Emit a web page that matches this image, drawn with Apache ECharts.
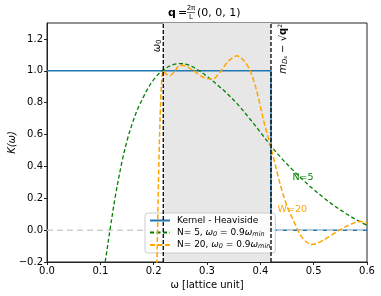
<!DOCTYPE html>
<html><head><meta charset="utf-8">
<script src="https://cdn.jsdelivr.net/npm/echarts@6/dist/echarts.min.js"></script>
<style>html,body{margin:0;padding:0;background:#fff}#c{width:381px;height:296px}</style>
</head><body><div id="c"></div>
<script>
// ---- data ----
const omega0 = 0.218;
const cutoff = 0.42;
const xTicks = [0.0, 0.1, 0.2, 0.3, 0.4, 0.5, 0.6];
const yTicks = [-0.2, 0.0, 0.2, 0.4, 0.6, 0.8, 1.0, 1.2];
const heavisideW = [0.0, 0.42, 0.42, 0.6];
const heavisideK = [1.0, 1.0, 0.0, 0.0];
const n5W = [0.100,0.109,0.118,0.128,0.140,0.150,0.160,0.170,0.180,0.190,0.200,0.210,0.218,0.230,0.240,0.250,0.265,0.283,0.300,0.320,0.340,0.360,0.380,0.400,0.420,0.440,0.460,0.480,0.500,0.520,0.540,0.560,0.580,0.600];
const n5K = [-0.36,-0.20,0.00,0.21,0.42,0.56,0.67,0.76,0.83,0.895,0.945,0.983,1.005,1.03,1.042,1.045,1.037,1.005,0.965,0.91,0.85,0.78,0.70,0.615,0.528,0.45,0.38,0.315,0.255,0.20,0.15,0.105,0.065,0.03];
const n20W = [0.203,0.206,0.209,0.212,0.215,0.218,0.224,0.231,0.240,0.249,0.260,0.275,0.290,0.300,0.312,0.324,0.340,0.356,0.370,0.381,0.393,0.406,0.418,0.428,0.437,0.450,0.462,0.475,0.485,0.495,0.505,0.520,0.543,0.565,0.587,0.600];
const n20K = [-0.45,-0.20,0.30,0.70,0.94,1.00,0.978,0.97,1.00,1.035,1.03,1.00,0.965,0.952,0.95,0.99,1.06,1.095,1.06,1.00,0.877,0.69,0.54,0.41,0.29,0.15,0.06,-0.03,-0.07,-0.09,-0.085,-0.06,-0.01,0.03,0.055,0.045];
const zeroLineW = [0.0, 0.6];
const zeroLineK = [0.0, 0.0];

const zip = (a,b) => a.map((v,i)=>[v,b[i]]);
const fmt = v => { const s = (Math.round(v*10)/10).toFixed(1); return s.replace('-', '\u2212'); };

const chart = echarts.init(document.getElementById('c'), null, {renderer:'canvas'});
const FONT = 'DejaVu Sans';
const option = {
  animation: false,
  textStyle: {fontFamily: FONT},
  grid: {left: 47, top: 23, right: 14, bottom: 34, show: true, borderColor: '#222', borderWidth: 1,
         backgroundColor: 'transparent', containLabel: false, outerBoundsMode: 'none'},
  legend: {
    left: 145, top: 213, orient: 'vertical', itemGap: 3, itemWidth: 20, itemHeight: 8,
    padding: [3,5,3,4], backgroundColor: 'rgba(255,255,255,0.85)', borderColor: '#ccc', borderWidth: 1, borderRadius: 3,
    itemStyle: {color: 'rgba(0,0,0,0)', borderColor: 'rgba(0,0,0,0)', borderWidth: 0},
    data: ['Kernel - Heaviside', 'N5', 'N20'],
    formatter: function(n){
      if (n === 'N5') return 'N= 5, {i|ω}{sub|0} = 0.9{i|ω}{sub|min}';
      if (n === 'N20') return 'N= 20, {i|ω}{sub|0} = 0.9{i|ω}{sub|min}';
      return n;
    },
    textStyle: {fontFamily: FONT, fontSize: 9, color: '#000', padding: [0,0,0,2],
      rich: {i:{fontFamily:FONT,fontSize:9,fontStyle:'italic',color:'#000'}, sub:{fontFamily:FONT,fontSize:6.5,fontStyle:'italic',color:'#000',verticalAlign:'bottom',padding:[3,0,0,0]}}}
  },
  xAxis: {
    type: 'value', min: 0, max: 0.6, interval: 0.1,
    name: 'ω [lattice unit]', nameLocation: 'middle', nameGap: 15,
    nameTextStyle: {fontFamily: FONT, fontSize: 10, color: '#000'},
    axisLine: {show: true, onZero: false, lineStyle: {color: '#222'}},
    axisTick: {show: true, length: 3, lineStyle: {color: '#222'}},
    axisLabel: {fontFamily: FONT, fontSize: 10, color: '#000', margin: 4, formatter: v => fmt(v)},
    splitLine: {show: false}
  },
  yAxis: {
    type: 'value', min: -0.2, max: 1.3, interval: 0.2,
    axisLine: {show: true, onZero: false, lineStyle: {color: '#222'}},
    axisTick: {show: true, length: 3, lineStyle: {color: '#222'}},
    axisLabel: {fontFamily: FONT, fontSize: 10, color: '#000', margin: 4, showMaxLabel: false,
      formatter: v => (v > 1.25 ? '' : fmt(v))},
    splitLine: {show: false}
  },
  series: [
    {name: 'shade', type: 'line', data: [], silent: true, z: 1,
     markArea: {silent: true, itemStyle: {color: '#e7e7e7'}, data: [[{xAxis: omega0}, {xAxis: cutoff}]]}},
    {name: 'Kernel - Heaviside', type: 'line', data: zip(heavisideW, heavisideK), symbol: 'none', z: 2,
     lineStyle: {color: '#1f77b4', width: 1.5}, itemStyle: {color: '#1f77b4'}},
    {name: 'zero', type: 'line', data: zip(zeroLineW, zeroLineK), symbol: 'none', z: 3,
     lineStyle: {color: '#cfcfcf', width: 1.5, type: [6,4]}},
    {name: 'N5', type: 'line', data: zip(n5W, n5K), symbol: 'none', smooth: 0.35, z: 4,
     lineStyle: {color: '#008000', width: 1.3, type: [4,2.5]}, itemStyle: {color: '#008000'}},
    {name: 'N20', type: 'line', data: zip(n20W, n20K), symbol: 'none', smooth: 0.25, z: 5,
     lineStyle: {color: '#ffa500', width: 1.5, type: [5,2.5]}, itemStyle: {color: '#ffa500'}},
    {name: 'v0', type: 'line', data: [[omega0, -0.2], [omega0, 1.3]], symbol: 'none', z: 6,
     lineStyle: {color: '#000', width: 1.3, type: [4,2]}},
    {name: 'v1', type: 'line', data: [[cutoff, -0.2], [cutoff, 1.3]], symbol: 'none', z: 6,
     lineStyle: {color: '#000', width: 1.3, type: [4,2]}}
  ]
};
chart.setOption(option);

const p0 = chart.convertToPixel({gridIndex: 0}, [omega0, 1.2]);
const p1 = chart.convertToPixel({gridIndex: 0}, [cutoff, 1.15]);
const pN5 = chart.convertToPixel({gridIndex: 0}, [0.48, 0.33]);
const pN20 = chart.convertToPixel({gridIndex: 0}, [0.46, 0.13]);
const pY = chart.convertToPixel({gridIndex: 0}, [0, 0.55]);
chart.setOption({graphic: [
  // title
  {type: 'text', x: 168, y: 13, style: {text: 'q', fontFamily: FONT, fontSize: 11, fontWeight: 'bold', fill: '#000', verticalAlign: 'middle'}},
  {type: 'text', x: 178, y: 13, style: {text: '=', fontFamily: FONT, fontSize: 11, fill: '#000', verticalAlign: 'middle'}},
  {type: 'text', x: 191, y: 8, style: {text: '2π', fontFamily: FONT, fontSize: 7, fill: '#000', align: 'center', verticalAlign: 'middle'}},
  {type: 'line', shape: {x1: 187, y1: 12.5, x2: 195, y2: 12.5}, style: {stroke: '#000', lineWidth: 0.6}},
  {type: 'text', x: 191, y: 17, style: {text: 'L', fontFamily: FONT, fontSize: 7, fill: '#000', align: 'center', verticalAlign: 'middle'}},
  {type: 'text', x: 197, y: 13, style: {text: '(0, 0, 1)', fontFamily: FONT, fontSize: 11, fill: '#000', verticalAlign: 'middle'}},
  // y axis name
  {type: 'text', x: 12, y: pY[1], rotation: Math.PI/2,
   style: {text: 'K(ω)', fontFamily: FONT, fontSize: 10, fontStyle: 'italic', fill: '#000', align: 'center', verticalAlign: 'middle'}},
  // annotations
  {type: 'text', x: p0[0] - 6, y: p0[1] + 7, rotation: Math.PI/2,
   style: {text: '{i|ω}{s|0}', fontFamily: FONT, fontSize: 10, fill: '#000', align: 'center', verticalAlign: 'middle',
     rich: {i:{fontFamily:FONT,fontSize:10,fontStyle:'italic'}, s:{fontFamily:FONT,fontSize:7,verticalAlign:'bottom',padding:[3,0,0,0]}}}},
  {type: 'text', x: p1[0] + 12, y: p1[1] + 2, rotation: Math.PI/2,
   style: {text: '{i|m}{s|D}{t|s} − √{b|q}{u|2}', fontFamily: FONT, fontSize: 10, fill: '#000', align: 'center', verticalAlign: 'middle',
     rich: {i:{fontFamily:FONT,fontSize:10,fontStyle:'italic'},
            s:{fontFamily:FONT,fontSize:7,fontStyle:'italic',verticalAlign:'bottom',padding:[4,0,0,0]},
            t:{fontFamily:FONT,fontSize:5,fontStyle:'italic',verticalAlign:'bottom',padding:[6,0,0,0]},
            u:{fontFamily:FONT,fontSize:6,verticalAlign:'top',padding:[0,0,4,0]},
            b:{fontFamily:FONT,fontSize:10,fontWeight:'bold'}}}},
  {type: 'text', x: pN5[0], y: pN5[1], style: {text: 'N=5', fontFamily: FONT, fontSize: 9.5, fill: '#008000', align: 'center', verticalAlign: 'middle'}},
  {type: 'text', x: pN20[0], y: pN20[1], style: {text: 'W=20', fontFamily: FONT, fontSize: 9.5, fill: '#ffa500', align: 'center', verticalAlign: 'middle'}}
]});
</script></body></html>
